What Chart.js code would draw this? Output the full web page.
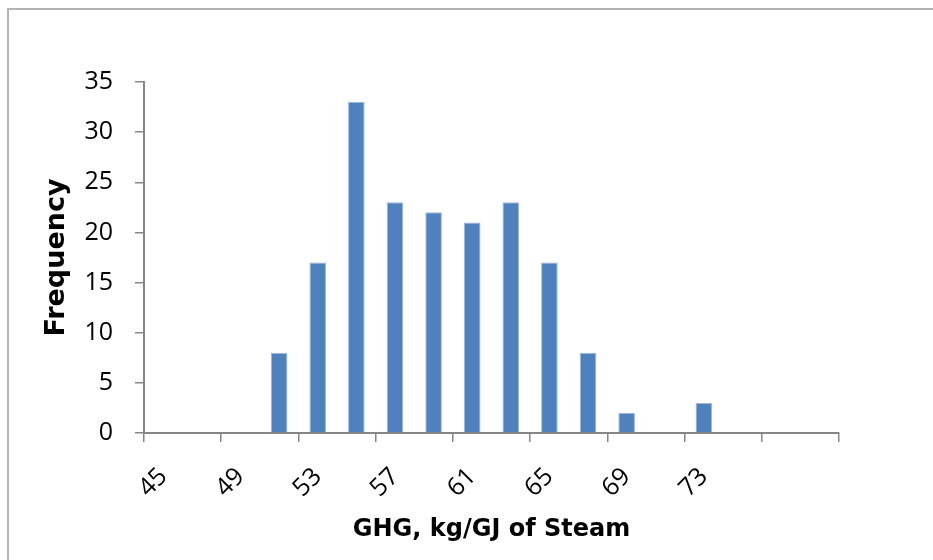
<!DOCTYPE html>
<html>
<head>
<meta charset="utf-8">
<title>GHG histogram</title>
<script src="https://cdn.jsdelivr.net/npm/chart.js@4.4.1/dist/chart.umd.min.js"></script>
<style>
  body { margin: 0; background: #fff; overflow: hidden; }
  #wrap { position: relative; width: 933px; height: 560px; overflow: hidden; }
  /* outer chart frame, only top and left edges are visible in the picture */
  #wrap::before {
    content: "";
    position: absolute;
    left: 7px; top: 8px; right: 0; bottom: 0;
    border-top: 2px solid #b4b4b4;
    border-left: 2px solid #b4b4b4;
    pointer-events: none;
  }
</style>
</head>
<body>
<div id="wrap"><canvas id="histChart"></canvas></div>
<script>
// bins (kg/GJ of steam) - last two slots have no label in the original
const bins = ["45", "47", "49", "51", "53", "55", "57", "59", "61", "63", "65", "67", "69", "71", "73", "75", "", ""];
const frequency = [0, 0, 0, 8, 17, 33, 23, 22, 21, 23, 17, 8, 2, 0, 3, 0, 0, 0];

const yMin = 0;
const yMax = 35;
const yStep = 5;

const axisGray = "#868686";
const barBlue = "#4F81BD";
const tickFont = { family: "Open Sans, Noto Sans, sans-serif", size: 25 };

const ctx = document.getElementById("histChart").getContext("2d");
const histChart = new Chart(ctx, {
  type: "bar",
  data: {
    labels: bins,
    datasets: [
      {
        label: "Frequency",
        data: frequency,
        backgroundColor: barBlue,
        borderColor: "#9DB6DA",
        borderWidth: 1,
        categoryPercentage: 1,
        barPercentage: 0.43,
      },
    ],
  },
  options: {
    responsive: true,
    maintainAspectRatio: false,
    animation: false,
    layout: {
      padding: { top: 82, right: 94, left: 0, bottom: 0 },
    },
    plugins: {
      legend: { display: false },
      tooltip: { enabled: false },
    },
    scales: {
      x: {
        offset: true,
        afterFit: (scale) => {
          scale.height = 127;
        },
        grid: {
          offset: true,
          drawOnChartArea: false,
          drawTicks: true,
          tickLength: 9,
          lineWidth: 1.5,
          // tick marks only every second bin boundary
          color: (c) =>
            c.index === undefined || c.index % 2 === 0 ? axisGray : "rgba(0,0,0,0)",
        },
        border: { display: true, color: axisGray, width: 2 },
        ticks: {
          autoSkip: false,
          maxRotation: 45,
          minRotation: 45,
          padding: 20,
          color: "#000",
          font: tickFont,
          callback: function (value, index) {
            return index % 2 === 0 ? this.getLabelForValue(value) : "";
          },
        },
        title: {
          display: true,
          text: "GHG, kg/GJ of Steam",
          color: "#000",
          font: { family: "DejaVu Sans", size: 24, weight: "bold" },
          padding: { top: 0, bottom: 16 },
        },
      },
      y: {
        min: yMin,
        max: yMax,
        afterFit: (scale) => {
          scale.width = 144;
        },
        grid: {
          drawOnChartArea: false,
          drawTicks: true,
          tickLength: 9,
          lineWidth: 1.5,
          color: axisGray,
        },
        border: { display: true, color: axisGray, width: 2 },
        ticks: {
          stepSize: yStep,
          padding: 22,
          color: "#000",
          font: tickFont,
        },
        title: {
          display: true,
          text: "Frequency",
          color: "#000",
          font: { family: "DejaVu Sans", size: 27, weight: "bold" },
          padding: { top: 41, bottom: 0 },
        },
      },
    },
  },
});
</script>
</body>
</html>
